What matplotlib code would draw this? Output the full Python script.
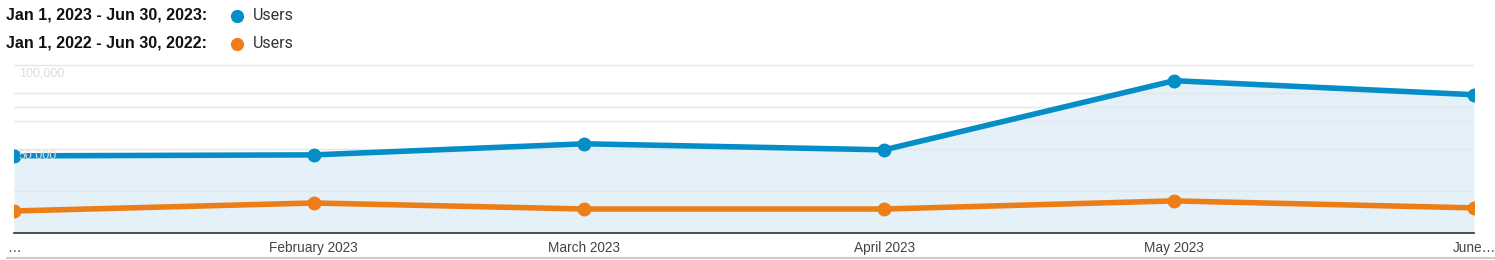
"""Users par mois, Jan-Jun 2023 vs Jan-Jun 2022 (style Google Analytics)."""
import numpy as np
import matplotlib
matplotlib.use("Agg")
import matplotlib.pyplot as plt
from matplotlib.lines import Line2D

W, H = 1495, 260
BLUE = "#058dc7"
ORANGE = "#ed7e17"

# ---------- data ----------
dates = np.array(["2023-01-01", "2023-02-01", "2023-03-01", "2023-04-01",
                  "2023-05-01", "2023-06-01"], dtype="datetime64[D]")
users_2023 = [55000, 55700, 63600, 59300, 108600, 98600]
users_2022 = [15700, 21400, 17100, 17100, 22900, 17900]
tick_labels = ["…", "February 2023", "March 2023", "April 2023", "May 2023", "June…"]
grid_vals = [30000, 60000, 80000, 90000, 100000, 120000]
ylab_vals = [(114000, "100,000"), (55000, "50,000")]

x = dates.astype(float)

fig = plt.figure(figsize=(W / 100, H / 100), dpi=100)
ax = fig.add_axes([14 / W, 27 / H, 1460 / W, 169 / H])
ax.set_xlim(x[0], x[-1])
ax.set_ylim(0, 120500)

for g in grid_vals:
    ax.axhline(g, color="#e6e6e6", lw=1, zorder=1)

ax.fill_between(x, users_2023, 0, color="#e4f1f8", zorder=0.5, lw=0)
ax.plot(x, users_2023, color=BLUE, lw=4, marker="o", ms=9, zorder=4,
        solid_capstyle="round")
ax.plot(x, users_2022, color=ORANGE, lw=4, marker="o", ms=9, zorder=4,
        solid_capstyle="round")

# labels axe y (floutes sur la capture)
for v, s in ylab_vals:
    ax.text(x[0] + 0.5, v, s, color="#dddddd", fontsize=9, va="center",
            ha="left", family="Liberation Sans", zorder=5)

for sp in ("top", "right", "left"):
    ax.spines[sp].set_visible(False)
ax.spines["bottom"].set_color("#333333")
ax.spines["bottom"].set_linewidth(1.2)
ax.set_yticks([])
ax.set_xticks(x)
ax.set_xticklabels(tick_labels, fontsize=9.8, color="#444444",
                   family="Liberation Sans")
ax.tick_params(axis="x", length=0, pad=6)

# legende en haut
for i, (rng, col) in enumerate([("Jan 1, 2023 - Jun 30, 2023:", BLUE),
                                ("Jan 1, 2022 - Jun 30, 2022:", ORANGE)]):
    yy = 1 - (15.5 + 28 * i) / H
    fig.text(6 / W, yy, rng, fontsize=11.5, fontweight="bold",
             family="Liberation Sans", color="#111111", va="center", ha="left")
    fig.add_artist(Line2D([237 / W], [yy], marker="o", ms=8.5, color=col,
                          transform=fig.transFigure))
    fig.text(253 / W, yy, "Users", fontsize=11.5, family="Roboto",
             color="#333333", va="center", ha="left")

fig.add_artist(Line2D([7 / W, 1], [1 - 258 / H] * 2, color="#cccccc", lw=1.5,
                      transform=fig.transFigure))

fig.savefig("out.png", dpi=100, facecolor="white")
